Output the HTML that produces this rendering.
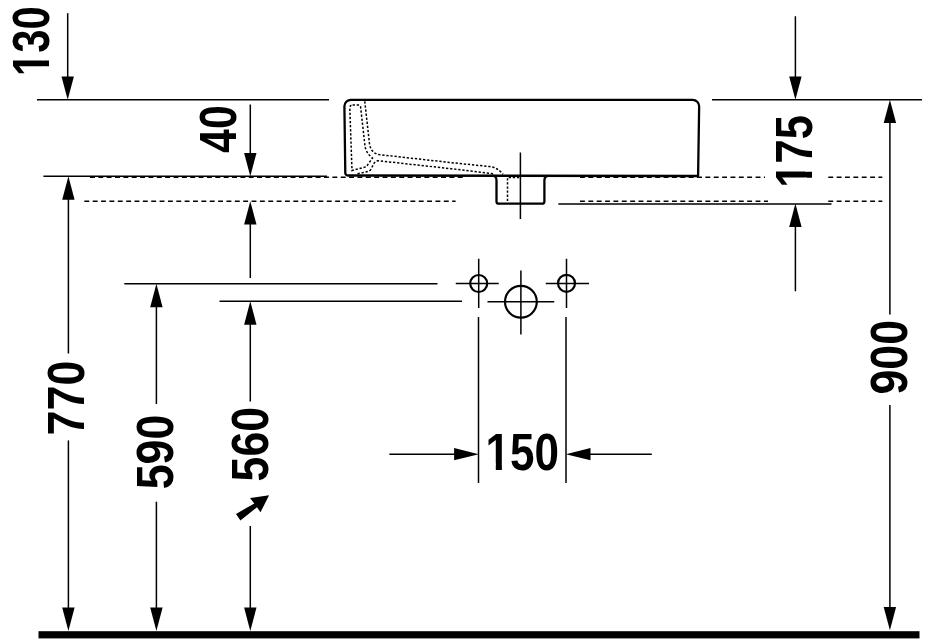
<!DOCTYPE html>
<html><head><meta charset="utf-8"><title>Drawing</title>
<style>
html,body{margin:0;padding:0;background:#fff;}
svg{display:block;filter:grayscale(1);}
text{font-family:"Liberation Sans",sans-serif;font-weight:bold;font-size:100px;fill:#000;}
.thin line{stroke:#000;stroke-width:1.5;}
.dash line{stroke:#000;stroke-width:1.45;stroke-dasharray:4.9 3.46;}
.dot{fill:none;stroke:#000;stroke-width:1.5;stroke-dasharray:2.3 1.8;}
.basin{fill:none;stroke:#000;stroke-width:2.3;stroke-linejoin:round;}
.circ{fill:none;stroke:#000;stroke-width:2.2;}
</style></head><body>
<svg width="926" height="642" viewBox="0 0 926 642">
<defs><clipPath id="one" clipPathUnits="userSpaceOnUse"><path clip-rule="evenodd" d="M-5,-85 H180 V10 H-5 Z M0,-12.5 H23.3 V3 H0 Z M37.1,-12.5 H56 V3 H37.1 Z"/></clipPath></defs>
<rect width="926" height="642" fill="#fff"/>
<g class="dash">
<line x1="89.95" y1="177.2" x2="466" y2="177.2"/>
<line x1="580" y1="177.2" x2="765" y2="177.2"/>
<line x1="828.3" y1="177.2" x2="882.3" y2="177.2"/>
<line x1="84.35" y1="201.15" x2="455.6" y2="201.15"/>
<line x1="580" y1="201.15" x2="768" y2="201.15"/>
<line x1="828.3" y1="201.15" x2="882.3" y2="201.15"/>
</g>
<g class="thin">
<line x1="37" y1="99.8" x2="329" y2="99.8"/>
<line x1="43.4" y1="176.25" x2="327" y2="176.25"/>
<line x1="712" y1="99.8" x2="922" y2="99.8"/>
<line x1="558.35" y1="204" x2="831.5" y2="204"/>
<line x1="124.3" y1="283.85" x2="437.5" y2="283.85"/>
<line x1="219.5" y1="301.25" x2="462" y2="301.25"/>
<line x1="67.7" y1="13.2" x2="67.7" y2="80"/>
<line x1="68.4" y1="195" x2="68.4" y2="353.5"/>
<line x1="68.4" y1="440.4" x2="68.4" y2="610"/>
<line x1="250.3" y1="104.5" x2="250.3" y2="156"/>
<line x1="250.3" y1="220" x2="250.3" y2="278"/>
<line x1="156.4" y1="301" x2="156.4" y2="404"/>
<line x1="156.4" y1="501.7" x2="156.4" y2="610"/>
<line x1="250.3" y1="320" x2="250.3" y2="401.5"/>
<line x1="250.3" y1="526" x2="250.3" y2="610"/>
<line x1="795.4" y1="16.25" x2="795.4" y2="80"/>
<line x1="795.4" y1="220" x2="795.4" y2="291.2"/>
<line x1="889.9" y1="120" x2="889.9" y2="314.4"/>
<line x1="889.9" y1="405" x2="889.9" y2="610"/>
<line x1="520.4" y1="152.5" x2="520.4" y2="219"/>
<line x1="478.5" y1="317" x2="478.5" y2="483"/>
<line x1="566" y1="317" x2="566" y2="483"/>
<line x1="389.4" y1="454.15" x2="458" y2="454.15"/>
<line x1="588" y1="454.15" x2="651.8" y2="454.15"/>
<line x1="455.75" y1="283.6" x2="498.75" y2="283.6"/>
<line x1="478.7" y1="258.75" x2="478.7" y2="308"/>
<line x1="545.75" y1="283.4" x2="589" y2="283.4"/>
<line x1="566.5" y1="258.75" x2="566.5" y2="308"/>
<line x1="487.5" y1="301.7" x2="554.25" y2="301.7"/>
<line x1="520.9" y1="270.5" x2="520.9" y2="334.5"/>
</g>
<g fill="#000">
<polygon points="67.7,99.85 61.5,76.44999999999999 73.9,76.44999999999999"/>
<polygon points="68.4,176.3 62.2,199.70000000000002 74.60000000000001,199.70000000000002"/>
<polygon points="68.4,631 62.2,607.6 74.60000000000001,607.6"/>
<polygon points="250.3,176.3 244.10000000000002,152.9 256.5,152.9"/>
<polygon points="250.3,201.15 244.10000000000002,224.55 256.5,224.55"/>
<polygon points="156.4,283.85 150.20000000000002,307.25 162.6,307.25"/>
<polygon points="156.4,631 150.20000000000002,607.6 162.6,607.6"/>
<polygon points="250.3,301.25 244.10000000000002,324.65 256.5,324.65"/>
<polygon points="250.3,631 244.10000000000002,607.6 256.5,607.6"/>
<polygon points="795.4,99.85 789.1999999999999,76.44999999999999 801.6,76.44999999999999"/>
<polygon points="795.4,203.6 789.1999999999999,227.0 801.6,227.0"/>
<polygon points="889.9,99.7 883.6999999999999,123.1 896.1,123.1"/>
<polygon points="889.9,630.3 883.6999999999999,606.9 896.1,606.9"/>
<polygon points="478.8,454.15 454.1,447.95 454.1,460.34999999999997"/>
<polygon points="565.8,454.15 590.4999999999999,447.95 590.4999999999999,460.34999999999997"/>
<polygon points="269.1,495.2 250,498.1 254.3,503.4 236,513.9 240.4,520.5 257,507.3 260.5,512.3"/>
</g>
<!-- floor -->
<rect x="38.5" y="631.2" width="881" height="7.2" fill="#000"/>
<!-- basin -->
<path class="basin" d="M345.3,173 L344.4,106.3 A6.5,6.5 0 0 1 350.9,99.8 H692.65 A6.5,6.5 0 0 1 699.15,106.3 L698.1,176 L347.8,175.5 A2.5,2.5 0 0 1 345.3,173 Z"/>
<path class="basin" d="M492.5,175.7 Q496.5,176 496.5,180.4 V201.5 Q496.5,203.7 498.7,203.7 H542.2 Q544.4,203.7 544.4,201.5 V180.4 Q544.4,176 548.4,175.8"/>
<!-- hidden (dotted) lines -->
<path class="dot" d="M352.6,105 H358.6 Q360.3,105 360.6,107 L365,146 Q366,153 372.5,158 L366.3,166.7 L352,170.5 L349.8,108 Q349.8,105 352.6,105"/>
<path class="dot" d="M364.75,101.3 L369.4,143 Q370.5,153 379,154.6 L450,162.5 L490,166.6 Q497,167.3 503,174.2"/>
<path class="dot" d="M357.5,173.75 L368,171.5 Q370,171 371,169 L374,163.5 Q375.5,160.6 379,160.8 L450,168.6 L493,173.75"/>
<path class="dot" d="M507.5,201 V177.6 H520"/>
<!-- holes -->
<circle class="circ" cx="478.7" cy="283.5" r="8.5"/>
<circle class="circ" cx="566.5" cy="283.3" r="8.5"/>
<circle class="circ" cx="520.9" cy="301.7" r="15.9"/>
<text clip-path="url(#one)" transform="translate(49.39,75.94) rotate(-90) scale(0.4174,0.5145)">130</text>
<text transform="translate(235.59,152.89) rotate(-90) scale(0.4288,0.5117)">40</text>
<text clip-path="url(#one)" transform="translate(811.88,187.82) rotate(-90) scale(0.4358,0.5176)">175</text>
<text transform="translate(84.28,435.41) rotate(-90) scale(0.4486,0.5187)">770</text>
<text transform="translate(173.19,489.36) rotate(-90) scale(0.4483,0.5145)">590</text>
<text transform="translate(268.28,481.45) rotate(-90) scale(0.4470,0.5159)">560</text>
<text transform="translate(907.49,394.57) rotate(-90) scale(0.4484,0.5102)">900</text>
<text clip-path="url(#one)" transform="translate(485.55,469.98) scale(0.4403,0.5173)">150</text>
</svg>
</body></html>
